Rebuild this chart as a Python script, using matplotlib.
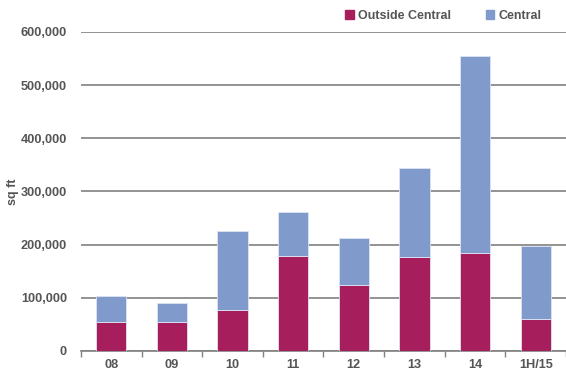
import matplotlib.pyplot as plt
import numpy as np
from matplotlib.patches import Patch
from matplotlib.ticker import FuncFormatter, FixedLocator

plt.rcParams['font.family'] = ['Liberation Sans', 'DejaVu Sans']

# Data (sq ft)
periods = ['08', '09', '10', '11', '12', '13', '14', '1H/15']
outside_central = [55000, 55000, 78000, 179000, 124000, 177000, 184000, 61000]
central = [48000, 35000, 147000, 82000, 88000, 167000, 370000, 136000]

c_outside = '#A61E5C'
c_central = '#7F9ACB'
txt = '#555555'
grid = '#808080'

fig = plt.figure(figsize=(5.66, 3.72), dpi=100)
ax = fig.add_axes([0.143, 0.0565, 0.857, 0.8575])

x = np.arange(len(periods))
ax.bar(x, outside_central, width=0.5, color=c_outside, edgecolor='#dde4f2',
       linewidth=0.6, zorder=3)
ax.bar(x, central, width=0.5, bottom=outside_central, color=c_central,
       edgecolor='#dde4f2', linewidth=0.6, zorder=3)

ax.set_xlim(-0.5, len(periods) - 0.5)
ax.set_ylim(0, 600000)
ax.set_yticks(np.arange(0, 600001, 100000))
ax.yaxis.set_major_formatter(FuncFormatter(lambda v, p: f'{int(v):,}'))
ax.yaxis.grid(True, color=grid, linewidth=1.2, zorder=0)
ax.set_axisbelow(True)

for s in ['top', 'right', 'left']:
    ax.spines[s].set_visible(False)
ax.spines['bottom'].set_color(grid)
ax.spines['bottom'].set_linewidth(1.2)

ax.set_xticks(x)
ax.set_xticklabels(periods)
ax.xaxis.set_minor_locator(FixedLocator(np.arange(-0.5, len(periods), 1.0)))
ax.tick_params(axis='x', which='major', length=0, pad=6)
ax.tick_params(axis='x', which='minor', length=4, width=1, color=grid)
ax.tick_params(axis='y', length=0, pad=10)
for lab in ax.get_xticklabels() + ax.get_yticklabels():
    lab.set_fontweight('bold')
    lab.set_color(txt)
    lab.set_fontsize(9.2)

ax.set_ylabel('sq ft', fontsize=9, fontweight='bold', color=txt, labelpad=1)

handles = [Patch(color=c_outside, label='Outside Central'),
           Patch(color=c_central, label='Central')]
leg = fig.legend(handles=handles, loc='center', bbox_to_anchor=(0.783, 0.957),
                 ncol=2, frameon=False, handlelength=0.7, handleheight=0.7,
                 handletextpad=0.3, columnspacing=2.8,
                 prop={'weight': 'bold', 'size': 9})
for t in leg.get_texts():
    t.set_color(txt)

fig.savefig('out.png', dpi=100)
